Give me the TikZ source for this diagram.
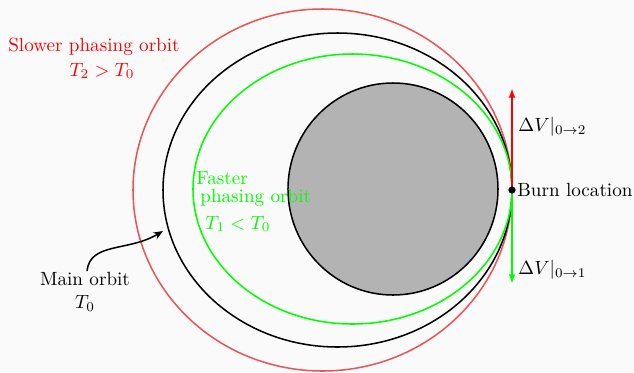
\documentclass[tikz,border=0pt]{standalone}
\usetikzlibrary{arrows.meta}
\definecolor{bgc}{RGB}{250,250,250}
\definecolor{orbred}{RGB}{235,85,85}
\definecolor{vgreen}{RGB}{0,255,0}
\definecolor{planet}{RGB}{179,179,179}
\begin{document}
\begin{tikzpicture}[x=0.523pt,y=-0.523pt,
  orbit/.style={line width=0.8pt},
  vec/.style={line width=0.9pt,-{Latex[length=5pt,width=3.5pt]}},
  lbl/.style={inner sep=0pt,font=\normalsize}]
\fill[bgc] (0,0) rectangle (634,372);
\useasboundingbox (0,0) rectangle (634,372);
% planet
\draw[orbit,fill=planet] (393,189) ellipse [x radius=105, y radius=106];
% orbits
\draw[orbit,orbred] (322.5,190) ellipse [x radius=189.5, y radius=181];
\draw[orbit,black] (337.5,190) ellipse [x radius=174.5, y radius=157];
\draw[orbit,vgreen] (352.5,189) ellipse [x radius=159.5, y radius=135];
% burn point and delta-v vectors
\coordinate (up) at (512,88);
\coordinate (down) at (512,284);
\node[circle,inner sep=0pt,minimum size=3.8pt] (burn) at (512,190) {};
\draw[vec,red] (burn.center) -- (up);
\draw[vec,vgreen] (burn.center) -- (down);
\fill[black] (burn.center) circle [radius=1.9pt];
\node[lbl,anchor=west] (dv2) at (518,127) {$\Delta V|_{0\rightarrow 2}$};
\node[lbl,anchor=west] (dv1) at (518,270) {$\Delta V|_{0\rightarrow 1}$};
\node[lbl,anchor=west] (burnlbl) at (517,190) {Burn location};
% slower orbit label
\node[lbl,text=red] (slowA) at (94,47) {Slower phasing orbit};
\node[lbl,text=red] (slowB) at (102,71) {$T_2>T_0$};
% faster orbit label
\node[lbl,text=vgreen,anchor=west] (fastA) at (196,178) {Faster};
\node[lbl,text=vgreen,anchor=west] (fastB) at (200,198) {phasing orbit};
\node[lbl,text=vgreen,anchor=west] (fastC) at (205,224) {$T_1<T_0$};
% main orbit label
\node[lbl,align=center] (main) at (85,292) {Main orbit\\$T_0$};
\coordinate (mainpt) at (163,231);
\draw[line width=0.8pt,-{Stealth[length=5pt,width=4pt]}] (main.north) ++(2,-1) .. controls (90,242) and (128,252) .. (mainpt);
\end{tikzpicture}
\end{document}
